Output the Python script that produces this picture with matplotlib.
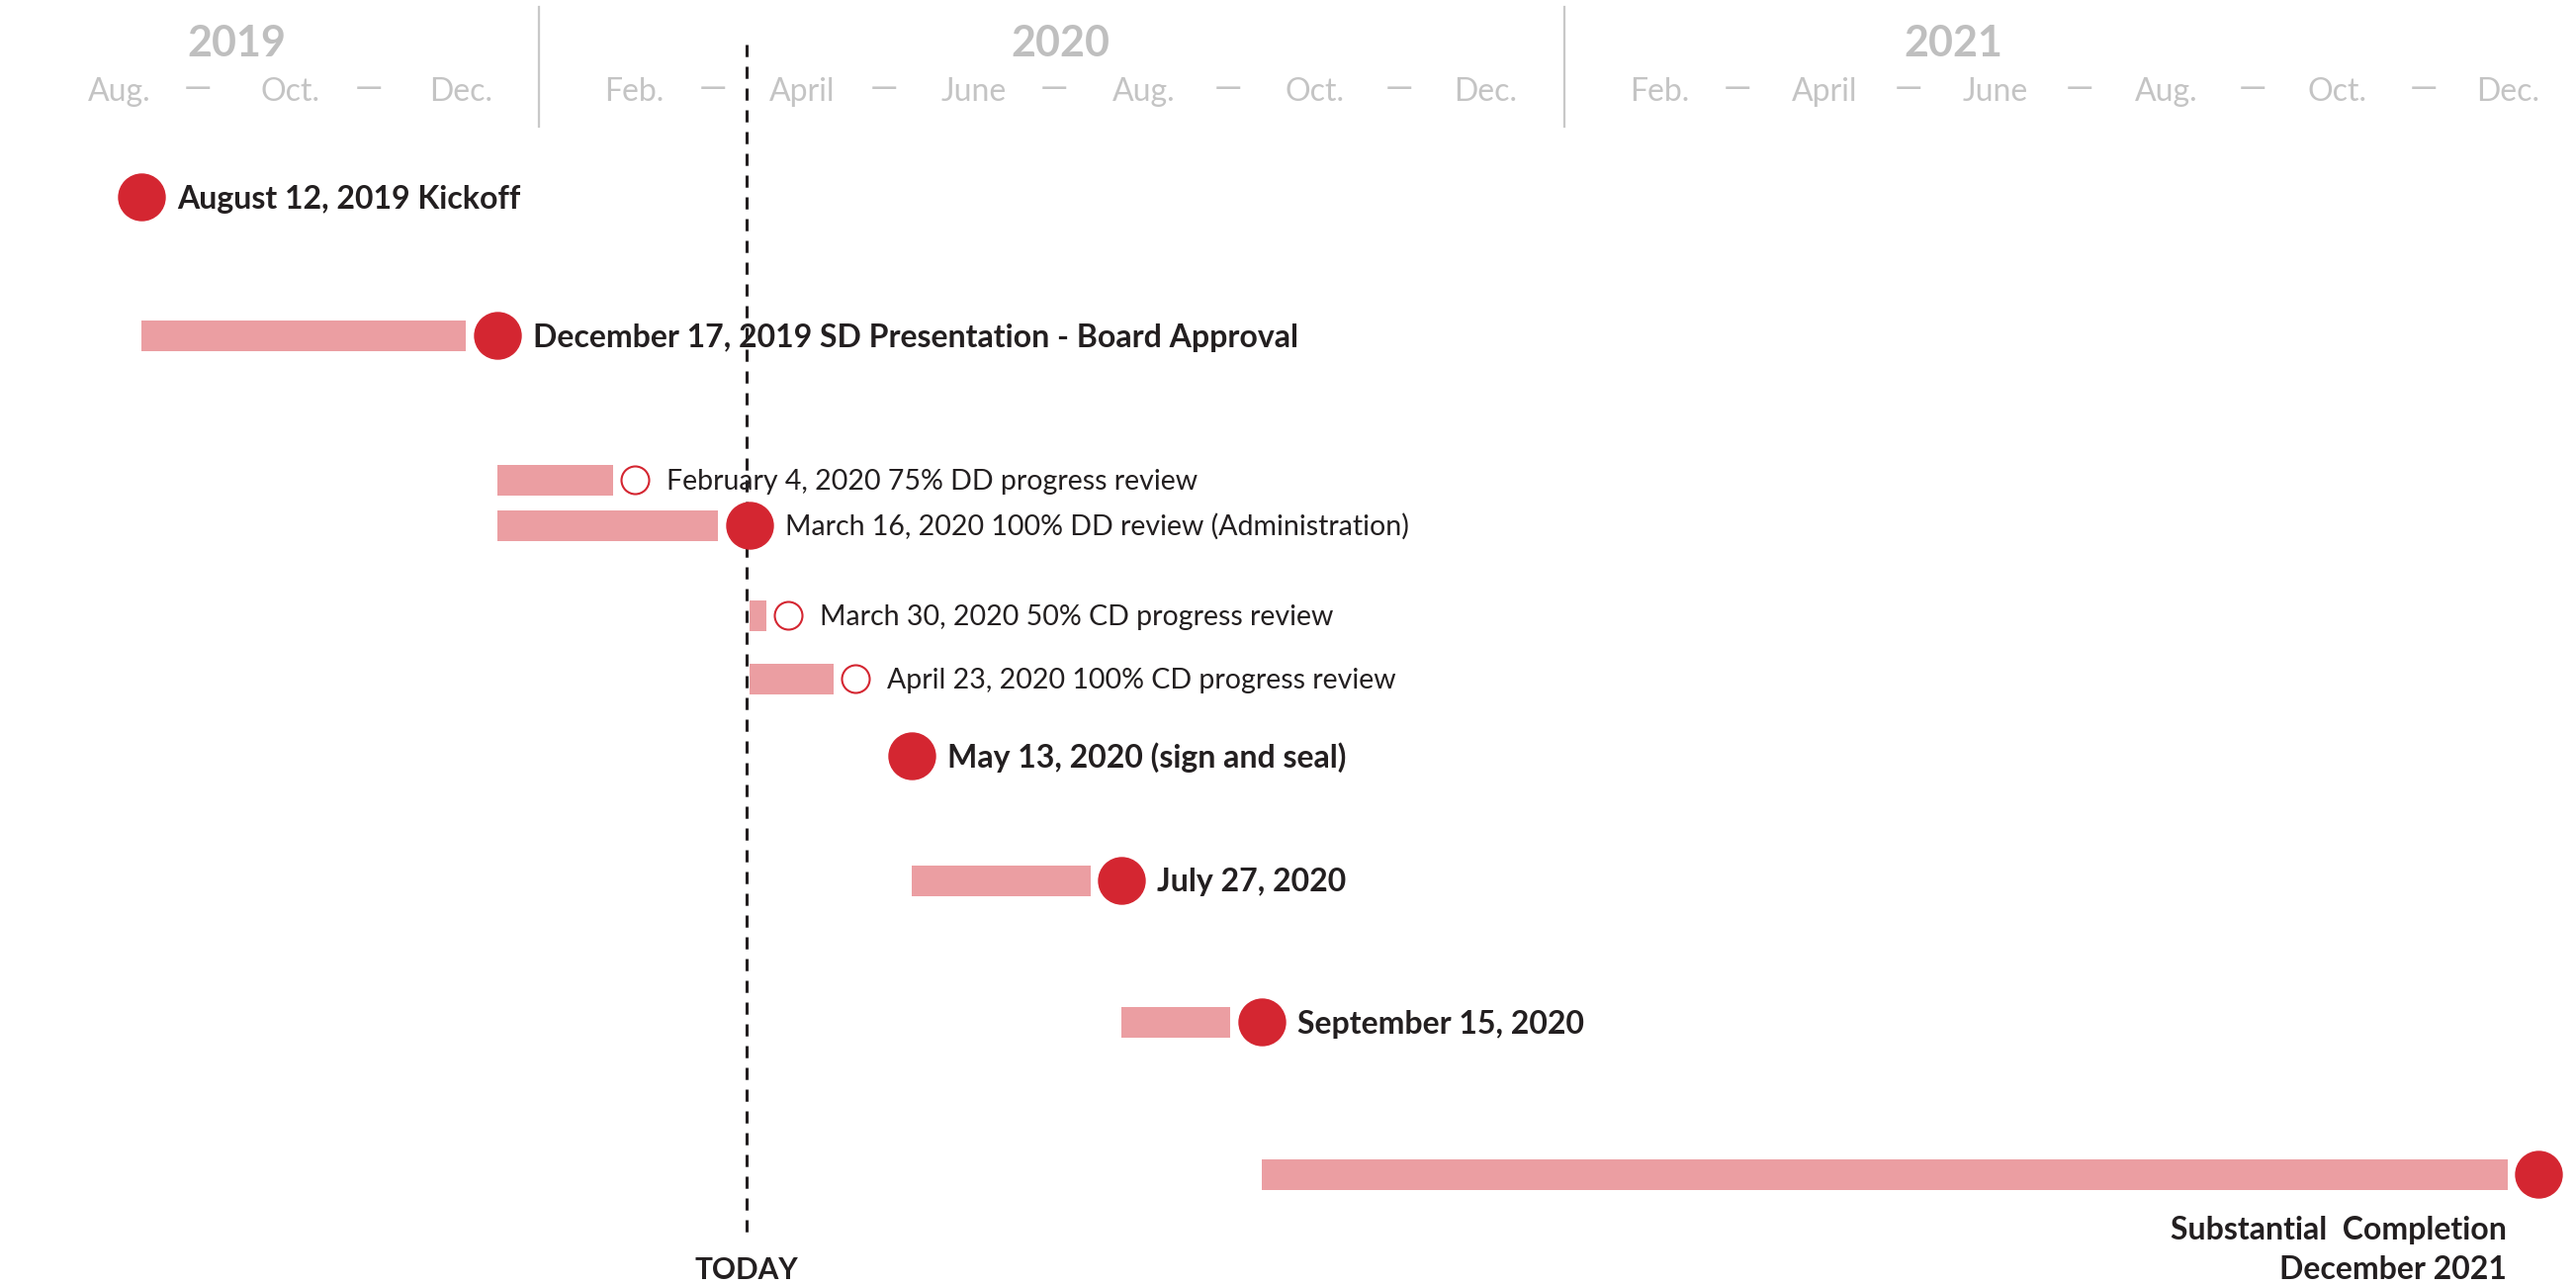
import matplotlib
matplotlib.use('Agg')
import matplotlib.pyplot as plt
import matplotlib.dates as mdates
import pandas as pd

plt.rcParams['font.family'] = ['Lato', 'DejaVu Sans']

# 里程碑数据
labels = ['August 12, 2019 Kickoff',
          'December 17, 2019 SD Presentation - Board Approval',
          'February 4, 2020 75% DD progress review',
          'March 16, 2020 100% DD review (Administration)',
          'March 30, 2020 50% CD progress review',
          'April 23, 2020 100% CD progress review',
          'May 13, 2020 (sign and seal)',
          'July 27, 2020',
          'September 15, 2020',
          'Substantial  Completion\nDecember 2021']
dates = ['2019-08-12', '2019-12-17', '2020-02-04', '2020-03-16', '2020-03-30',
         '2020-04-23', '2020-05-13', '2020-07-27', '2020-09-15', '2021-12-15']
starts = [None, '2019-08-12', '2019-12-17', '2019-12-17', '2020-03-16',
          '2020-03-16', None, '2020-05-13', '2020-07-27', '2020-09-15']
filled = [True, True, False, True, False, False, True, True, True, True]
bold = [True, True, False, False, False, False, True, True, True, True]
today = '2020-03-15'

# 表头
month_names = ['Aug.', 'Oct.', 'Dec.', 'Feb.', 'April', 'June', 'Aug.', 'Oct.', 'Dec.',
               'Feb.', 'April', 'June', 'Aug.', 'Oct.', 'Dec.']
month_dates = pd.date_range('2019-08-01', '2021-12-01', freq='2MS') + pd.Timedelta(days=3)
dash_dates = ['2019-09-01', '2019-11-01', '2020-03-03', '2020-05-03', '2020-07-03',
              '2020-09-03', '2020-11-03', '2021-03-04', '2021-05-04', '2021-07-04',
              '2021-09-04', '2021-11-04']
years = ['2019', '2020', '2021']
year_dates = ['2019-09-15', '2020-07-05', '2021-05-20']
year_breaks = ['2020-01-01', '2021-01-01']

# 布局（像素）
row_y = [199, 339, 485, 531, 622, 686, 764, 890, 1033, 1187]
RED = '#D42631'
PINK = '#EB9EA2'
DARK = '#231F20'
GREY = '#BFBFBF'
PT = 0.72  # 1 px = 0.72 pt @ dpi 100

fig = plt.figure(figsize=(26.05, 13.0), dpi=100)
ax = fig.add_axes([0, 0, 1, 1])
ax.set_xlim(mdates.date2num(pd.Timestamp('2019-06-22 10:00')),
            mdates.date2num(pd.Timestamp('2021-12-28 10:00')))
ax.set_ylim(1300, 0)
ax.axis('off')

d2n = lambda s: mdates.date2num(pd.Timestamp(s))
p0, p1 = ax.transData.transform([[0, 0], [1, 0]])
px_per_day = p1[0] - p0[0]

# 表头文字
for name, d in zip(month_names, month_dates):
    ax.text(mdates.date2num(d), 93, name, ha='center', va='center', fontsize=23,
            color='#C4C4C4')
for d in dash_dates:
    ax.text(d2n(d), 89, '\u2014', ha='center', va='center', fontsize=26, color='#C4C4C4')
for y, d in zip(years, year_dates):
    ax.text(d2n(d), 44, y, ha='center', va='center', fontsize=31, color=GREY,
            fontweight='bold')
for d in year_breaks:
    ax.plot([d2n(d), d2n(d)], [7, 128], color='#C8C8C8', lw=1.6)

# TODAY 线
ax.plot([d2n(today), d2n(today)], [45, 1253], color=DARK, lw=2.2,
        linestyle=(0, (4, 3.2)), zorder=1)
ax.annotate('TODAY', xy=(d2n(today), 1293), ha='center', va='baseline', fontsize=21.5,
            color=DARK, fontweight='bold')

# 条形和圆点
for i in range(len(labels)):
    x = d2n(dates[i])
    y = row_y[i]
    r = 23.5 if filled[i] else 14
    if starts[i] is not None:
        left = d2n(starts[i])
        right = x - (r + 8) / px_per_day
        ax.barh(y, right - left, left=left, height=31, color=PINK, zorder=2)
    if filled[i]:
        ax.plot(x, y, 'o', ms=2 * r * PT, color=RED, mec=RED, zorder=3)
    else:
        ax.plot(x, y, 'o', ms=2 * r * PT, mfc='white', mec=RED, mew=1.5, zorder=3)

    fs = 23 if bold[i] else 20.5
    fw = 'bold' if bold[i] else 'normal'
    cap = 23 if bold[i] else 19.5
    if i == len(labels) - 1:
        for k, line in enumerate(labels[i].split('\n')):
            ax.annotate(line, xy=(x, y), xytext=(-32 * PT, -(66 + 40 * k) * PT),
                        textcoords='offset points', ha='right', va='baseline',
                        fontsize=fs, fontweight=fw, color=DARK)
    else:
        dx = 36 if filled[i] else 32
        ax.annotate(labels[i], xy=(x, y), xytext=(dx * PT, -cap / 2 * PT),
                    textcoords='offset points', ha='left', va='baseline',
                    fontsize=fs, fontweight=fw, color=DARK)

plt.savefig('out.png', dpi=100)
